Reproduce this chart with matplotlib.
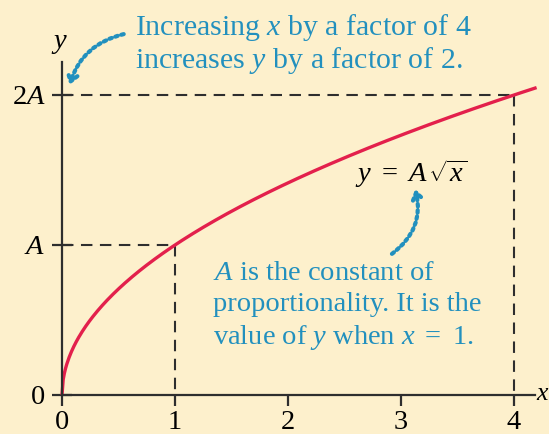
import numpy as np
import matplotlib
matplotlib.use("Agg")
import matplotlib.pyplot as plt

# -------- DATA --------
x_ticks = [0, 1, 2, 3, 4]
x_tick_labels = ["0", "1", "2", "3", "4"]
y_ticks = [0, 1, 2]
y_tick_labels = ["0", "$A$", "$2A$"]
A = 1.0
x_curve = np.linspace(0, 4.2, 400)
y_curve = A * np.sqrt(x_curve)

# -------- STYLE --------
plt.rcParams["font.family"] = ["Liberation Serif", "DejaVu Serif"]
plt.rcParams["mathtext.fontset"] = "custom"
plt.rcParams["mathtext.rm"] = "Liberation Serif"
plt.rcParams["mathtext.it"] = "Liberation Serif:italic"

bg = "#fdf0cc"
blue = "#2290be"
red = "#e3204c"
dark = "#2e2e2e"
fs = 20.5

fig = plt.figure(figsize=(5.49, 4.34), dpi=100, facecolor=bg)
ax = fig.add_axes([0, 0, 1, 1], facecolor=bg)

# pixel mapping: x=0 at 62px, 113px per unit; y=0 at 395px, 150px per unit
ax.set_xlim(-62 / 113, (549 - 62) / 113)
ax.set_ylim(-39 / 150, (434 - 39) / 150)

# -------- CURVE --------
ax.plot(x_curve, y_curve, color=red, lw=2.4, zorder=3, solid_capstyle="butt")

# -------- DASHED GUIDES --------
dash = dict(color=dark, lw=1.5, dashes=(5.5, 3.6), zorder=2)
ax.plot([0, 4], [2 * A, 2 * A], **dash)
ax.plot([4, 4], [2 * A, 0], **dash)
ax.plot([0, 1], [A, A], **dash)
ax.plot([1, 1], [A, 0], **dash)

# -------- AXES --------
for s in ["top", "right"]:
    ax.spines[s].set_visible(False)
ax.spines["left"].set_position(("data", 0))
ax.spines["bottom"].set_position(("data", 0))
ax.spines["left"].set_bounds(0, 2.22)
ax.spines["bottom"].set_bounds(0, 4.19)
for s in ["left", "bottom"]:
    ax.spines[s].set_color(dark)
    ax.spines[s].set_linewidth(1.6)
    ax.spines[s].set_zorder(4)

ax.set_xticks(x_ticks)
ax.set_xticklabels(x_tick_labels)
ax.set_yticks(y_ticks)
ax.set_yticklabels(y_tick_labels)
ax.tick_params(axis="x", direction="out", length=8, width=1.6, color=dark,
               labelsize=fs, pad=3)
ax.tick_params(axis="y", direction="inout", length=14, width=1.6, color=dark,
               labelsize=fs, pad=5)

ax.text(-0.02, 2.27, "y", style="italic", fontsize=fs, ha="center", va="bottom")
ax.text(4.2, 0.01, "x", style="italic", fontsize=fs - 2, ha="left", va="center")

# -------- ANNOTATIONS --------
ax.text(3.09, 1.42, r"$y\ =\ A\,\sqrt{x}$", fontsize=fs, ha="center",
        va="baseline")

fig.text(135 / 549, 1 - 12 / 434,
         "Increasing $x$ by a factor of 4\nincreases $y$ by a factor of 2.",
         fontsize=21.5, color=blue, ha="left", va="top", linespacing=1.08)
fig.text(213 / 549, 1 - 261 / 434,
         "$A$ is the constant of\nproportionality. It is the\nvalue of $y$ when $x\ =\ 1$.",
         fontsize=fs, color=blue, ha="left", va="top", linespacing=1.3)

arrow_kw = dict(arrowstyle="->,head_length=0.5,head_width=0.35", color=blue,
                lw=3, linestyle=(0, (0.6, 0.9)))
ax.annotate("", xy=(0.06, 2.05), xytext=(0.57, 2.41),
            arrowprops=dict(connectionstyle="arc3,rad=0.3", **arrow_kw))
ax.annotate("", xy=(3.12, 1.39), xytext=(2.90, 0.93),
            arrowprops=dict(connectionstyle="arc3,rad=0.35", **arrow_kw))

fig.savefig("out.png", dpi=100, facecolor=bg)
